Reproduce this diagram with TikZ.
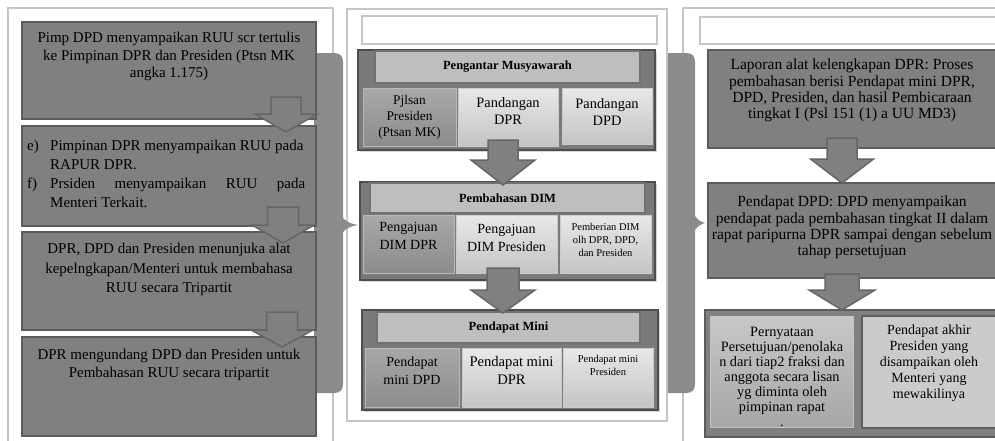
\documentclass[tikz,border=0pt]{standalone}
\usepackage{fontspec}
\setmainfont{Liberation Serif}
\usetikzlibrary{shadows}
\definecolor{framec}{HTML}{C6C6C6}
\definecolor{boxf}{HTML}{808080}
\definecolor{boxd}{HTML}{5C5C5C}
\definecolor{bandc}{HTML}{8B8B8B}
\definecolor{contf}{HTML}{7A7A7A}
\definecolor{contd}{HTML}{4E4E4E}
\definecolor{headf}{HTML}{BEBEBE}
\definecolor{lighttop}{HTML}{E8E8E8}
\definecolor{lightbot}{HTML}{C4C4C4}
\definecolor{darktop}{HTML}{A8A8A8}
\definecolor{darkbot}{HTML}{8C8C8C}
\definecolor{arrowd}{HTML}{666666}
\newcommand\mkbox[7]{\node[#1, anchor=north west, inner sep=0pt, outer sep=0pt, minimum width={#5pt-#3pt}, minimum height={#6pt-#4pt}] (#2) at (#3,#4) {#7};}
\newcommand\blockdn[6]{\draw[arrowsty] ({#1-#5},#2) -- ({#1+#5},#2) -- ({#1+#5},#3) -- ({#1+#6},#3) -- (#1,#4) -- ({#1-#6},#3) -- ({#1-#5},#3) -- cycle;}
\tikzset{
  x=1pt, y=-1pt,
  frame/.style={draw=framec, line width=2pt},
  hdr/.style={draw=framec, line width=2.5pt},
  gbox/.style={draw=boxd, fill=boxf, line width=1.8pt},
  cont/.style={draw=contd, fill=contf, line width=2pt, drop shadow={shadow xshift=2pt, shadow yshift=-2pt, opacity=0.3}},
  hbar/.style={draw=contd!80, fill=headf, line width=1.2pt, font=\bfseries\fontsize{12.5}{14}\selectfont},
  dsub/.style={draw=darktop!80!white, top color=darktop, bottom color=darkbot, line width=1pt, drop shadow={shadow xshift=1.5pt, shadow yshift=-1.5pt, opacity=0.35}},
  lsub/.style={draw=lightbot!90!white, top color=lighttop, bottom color=lightbot, line width=1pt, drop shadow={shadow xshift=1.5pt, shadow yshift=-1.5pt, opacity=0.35}},
  arrowsty/.style={draw=arrowd, fill=boxf, line width=1.5pt, line join=miter},
  ltxt/.style={anchor=north, align=center, inner sep=0pt, font=\fontsize{15}{17.5}\selectfont},
  mtxt/.style={anchor=north, align=center, inner sep=0pt, font=\fontsize{14}{18}\selectfont},
  stxt/.style={anchor=north, align=center, inner sep=0pt, font=\fontsize{10.5}{13}\selectfont},
  rtxt/.style={anchor=north, align=center, inner sep=0pt, font=\fontsize{15.5}{16.3}\selectfont},
}
\begin{document}
\begin{tikzpicture}
\useasboundingbox (0,0) rectangle (995,440);
\clip (0,0) rectangle (995,440);
\fill[white] (0,0) rectangle (995,440);
% frames
\draw[frame] (8,460) -- (8,8) -- (333,8) -- (333,460);
\draw[frame] (347,9) rectangle (667,421);
\draw[frame] (683,460) -- (683,8) -- (1010,8);
\draw[hdr] (362,16) rectangle (657,44);
\draw[hdr] (700,17) rectangle (1010,44);
% brackets
\fill[bandc] (314,53) -- (334,53) .. controls (340,53) and (343,56) .. (343,62) -- (343,218) .. controls (346,222) and (352,224) .. (358,225) .. controls (352,226) and (346,228) .. (343,232) -- (343,384) .. controls (343,390) and (340,393) .. (334,393) -- (314,393) -- cycle;
\fill[bandc] (668,53) -- (686,53) .. controls (692,53) and (695,56) .. (695,62) -- (695,216) .. controls (698,220) and (701,222) .. (705,223) .. controls (701,224) and (698,226) .. (695,230) -- (695,384) .. controls (695,390) and (692,393) .. (686,393) -- (668,393) -- cycle;
% left column
\mkbox{gbox}{L1}{22}{22}{316}{119}{}
\mkbox{gbox}{L2}{22}{126}{316}{226}{}
\mkbox{gbox}{L3}{22}{232}{316}{330}{}
\mkbox{gbox}{L4}{22}{337}{316}{436}{}
\node[ltxt] (L1t) at (169,32) {Pimp DPD menyampaikan RUU scr tertulis\\ke Pimpinan DPR dan Presiden (Ptsn MK\\angka 1.175)};
\node[ltxt, anchor=north west, align=left, font=\fontsize{15}{19}\selectfont] (L2e) at (27,140) {e)};
\node[ltxt, anchor=north west, align=left, font=\fontsize{15}{19}\selectfont] (L2a) at (50,140) {Pimpinan DPR menyampaikan RUU pada\\RAPUR DPR.};
\node[ltxt, anchor=north west, align=left, font=\fontsize{15}{19}\selectfont] (L2f) at (27,178) {f)};
\node[ltxt, anchor=north west, align=left, font=\fontsize{15}{19}\selectfont] (L2b) at (50,178) {\makebox[255pt][s]{Prsiden menyampaikan RUU pada}\\Menteri Terkait.};
\node[ltxt, font=\fontsize{15}{19.5}\selectfont] (L3t) at (169,243) {DPR, DPD dan Presiden menunjuka alat\\kepelngkapan/Menteri untuk membahasa\\RUU secara Tripartit};
\node[ltxt] (L4t) at (169,349) {DPR mengundang DPD dan Presiden untuk\\Pembahasan RUU secara tripartit};
\blockdn{286}{97}{114}{132}{15}{31}
\blockdn{283}{207}{225}{243}{15.5}{31}
\blockdn{282}{312}{330}{347}{15.5}{31}
% middle column
\mkbox{cont}{M1}{358}{50}{655}{150}{}
\mkbox{hbar}{M1h}{375}{51}{640}{83}{Pengantar Musyawarah}
\mkbox{dsub}{S11}{363}{88}{456}{146}{}
\mkbox{lsub}{S12}{458}{88}{558}{146}{}
\mkbox{lsub}{S13}{562}{88}{652}{144}{}
\node[mtxt, font=\fontsize{13.3}{16}\selectfont] (S11t) at (409.5,95) {Pjlsan\\Presiden\\(Ptsan MK)};
\node[mtxt, font=\fontsize{14.4}{17}\selectfont] (S12t) at (508,97) {Pandangan\\DPR};
\node[mtxt, font=\fontsize{14.4}{17}\selectfont] (S13t) at (607,98) {Pandangan\\DPD};
\mkbox{cont}{M2}{360}{182}{655}{280}{}
\mkbox{hbar}{M2h}{370}{183}{645}{213}{Pembahasan DIM}
\mkbox{dsub}{S21}{363}{215}{454}{273}{}
\mkbox{lsub}{S22}{456}{215}{557}{273}{}
\mkbox{lsub}{S23}{560}{215}{651}{273}{}
\node[mtxt] (S21t) at (408.5,222) {Pengajuan\\DIM DPR};
\node[mtxt] (S22t) at (506.5,224) {Pengajuan\\DIM Presiden};
\node[stxt] (S23t) at (605.5,223) {Pemberian DIM\\olh DPR, DPD,\\dan Presiden};
\mkbox{cont}{M3}{362}{310}{658}{410}{}
\mkbox{hbar}{M3h}{377}{312}{640}{343}{Pendapat Mini}
\mkbox{dsub}{S31}{365}{348}{459}{407}{}
\mkbox{lsub}{S32}{462}{348}{561}{407}{}
\mkbox{lsub}{S33}{563}{348}{653}{407}{}
\node[mtxt] (S31t) at (412,357) {Pendapat\\mini DPD};
\node[mtxt, font=\fontsize{14.6}{18}\selectfont] (S32t) at (511.5,356) {Pendapat mini\\DPR};
\node[stxt] (S33t) at (608,355) {Pendapat mini\\Presiden};
\blockdn{503}{140}{160}{185}{15}{32}
\blockdn{503}{268}{290}{313}{16}{32}
% right column
\mkbox{gbox}{R1}{708}{50}{1000}{148}{}
\node[rtxt] (R1t) at (852,59) {Laporan alat kelengkapan DPR: Proses\\pembahasan berisi Pendapat mini DPR,\\DPD, Presiden, dan hasil Pembicaraan\\tingkat I (Psl 151 (1) a UU MD3)};
\mkbox{gbox}{R2}{708}{183}{1000}{278}{}
\node[rtxt] (R2t) at (852,196) {Pendapat DPD: DPD menyampaikan\\pendapat pada pembahasan tingkat II dalam\\rapat paripurna DPR sampai dengan sebelum\\tahap persetujuan};
\mkbox{gbox}{R3}{705}{310}{1000}{437}{}
\mkbox{dsub, top color=lightbot!95!white, bottom color=lightbot!85!black, draw=lightbot, drop shadow={shadow xshift=2pt, shadow yshift=-2.5pt, opacity=0.5}}{R3a}{710}{316}{853}{427}{}
\mkbox{draw=boxd, fill=lightbot!80!lighttop, line width=1.8pt}{R3b}{862}{316}{1000}{428}{}
\node[mtxt, font=\fontsize{14.3}{15}\selectfont] (R3at) at (782,327) {Pernyataan\\Persetujuan/penolaka\\n dari tiap2 fraksi dan\\anggota secara lisan\\yg diminta oleh\\pimpinan rapat\\.};
\node[mtxt, font=\fontsize{14}{16}\selectfont] (R3bt) at (929,325) {Pendapat akhir\\Presiden yang\\disampaikan oleh\\Menteri yang\\mewakilinya};
\blockdn{842}{138}{159}{183}{15}{31.5}
\blockdn{842}{274}{290}{310}{17}{33}
\end{tikzpicture}
\end{document}
